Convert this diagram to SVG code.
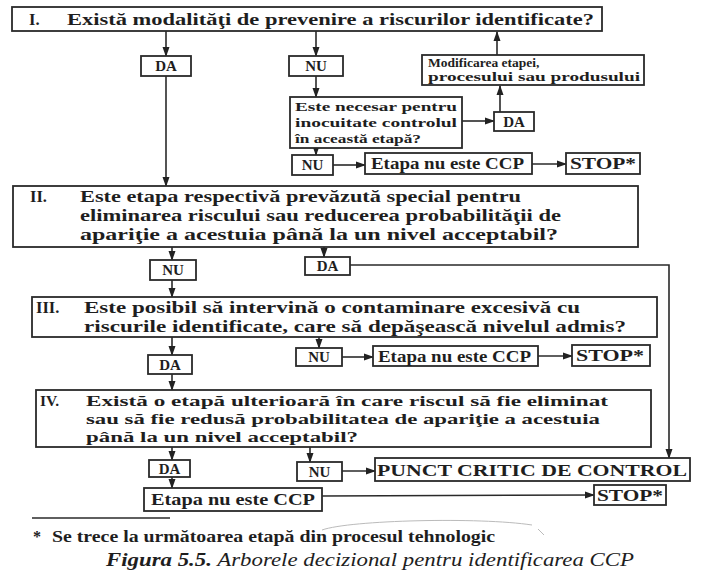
<svg xmlns="http://www.w3.org/2000/svg" width="703" height="573" viewBox="0 0 703 573">
<defs>
<marker id="ah" markerWidth="10" markerHeight="8" refX="9" refY="4" orient="auto" markerUnits="userSpaceOnUse">
<path d="M0,0.5 L10,4 L0,7.5 z" fill="#222"/>
</marker>
<style>
.box{fill:#fff;stroke:#2a2a2a;stroke-width:1.8}
.t{font-family:"Liberation Serif","Times New Roman",serif;font-weight:bold;fill:#1e1e1e}
.big{font-size:16.5px}
.mid{font-size:15.5px}
.sm{font-size:15px}
.xs{font-size:13.5px}
.c{text-anchor:middle}
.ln{fill:none;stroke:#2a2a2a;stroke-width:1.6}
.ar{fill:none;stroke:#2a2a2a;stroke-width:1.6;marker-end:url(#ah)}
</style>
</defs>
<rect width="703" height="573" fill="#fff"/>

<g id="connectors">
<line class="ar" x1="166" y1="31" x2="166" y2="56"/>
<line class="ar" x1="316" y1="31" x2="316" y2="56"/>
<line class="ar" x1="497" y1="55" x2="497" y2="32"/>
<line class="ar" x1="166" y1="76" x2="166" y2="186"/>
<line class="ar" x1="316" y1="76" x2="316" y2="97"/>
<line class="ar" x1="462" y1="121" x2="494" y2="121"/>
<line class="ar" x1="500" y1="112" x2="500" y2="86"/>
<line class="ar" x1="316" y1="148" x2="316" y2="155"/>
<line class="ar" x1="333" y1="165" x2="365" y2="165"/>
<line class="ar" x1="532" y1="164" x2="566" y2="164"/>
<line class="ar" x1="172" y1="247" x2="172" y2="260"/>
<line class="ar" x1="324" y1="247" x2="324" y2="257"/>
<polyline class="ar" points="350,265 669,265 669,458"/>
<line class="ar" x1="172" y1="280" x2="172" y2="297"/>
<line class="ar" x1="172" y1="337" x2="172" y2="355"/>
<line class="ar" x1="319" y1="337" x2="319" y2="348"/>
<line class="ar" x1="342" y1="357" x2="373" y2="357"/>
<line class="ar" x1="538" y1="356" x2="572" y2="356"/>
<line class="ar" x1="172" y1="374" x2="172" y2="390"/>
<line class="ar" x1="172" y1="447" x2="172" y2="460"/>
<line class="ar" x1="310" y1="447" x2="310" y2="462"/>
<line class="ar" x1="342" y1="471" x2="375" y2="471"/>
<line class="ar" x1="172" y1="477" x2="172" y2="488"/>
<line class="ar" x1="322" y1="496" x2="594" y2="495"/>
</g>

<g id="q1">
<rect class="box" x="12" y="7" width="590" height="24"/>
<text class="t big" x="29" y="25">I.</text>
<text class="t big" x="67" y="25" textLength="527" lengthAdjust="spacingAndGlyphs">Există modalităţi de prevenire a riscurilor identificate?</text>
</g>
<g id="q1-da">
<rect class="box" x="141" y="56" width="50" height="20"/>
<text class="t sm c" x="166" y="71">DA</text>
</g>
<g id="q1-nu">
<rect class="box" x="289" y="56" width="54" height="20"/>
<text class="t sm c" x="316" y="71">NU</text>
</g>
<g id="modificare">
<rect class="box" x="422" y="55" width="222" height="30"/>
<text class="t xs" x="428" y="67">Modificarea etapei,</text>
<text class="t xs" x="428" y="81" textLength="212" lengthAdjust="spacingAndGlyphs">procesului sau produsului</text>
</g>
<g id="necesar">
<rect class="box" x="290" y="97" width="172" height="51"/>
<text class="t xs" x="295" y="111" textLength="162" lengthAdjust="spacingAndGlyphs">Este necesar pentru</text>
<text class="t xs" x="295" y="127" textLength="162" lengthAdjust="spacingAndGlyphs">inocuitate controlul</text>
<text class="t xs" x="295" y="143" textLength="126" lengthAdjust="spacingAndGlyphs">în această etapă?</text>
</g>
<g id="necesar-da">
<rect class="box" x="494" y="112" width="40" height="19"/>
<text class="t sm c" x="514" y="127">DA</text>
</g>
<g id="necesar-nu">
<rect class="box" x="292" y="155" width="41" height="20"/>
<text class="t sm c" x="312.5" y="170">NU</text>
</g>
<g id="etapa1">
<rect class="box" x="365" y="153" width="167" height="21"/>
<text class="t" font-size="16" x="371" y="169" textLength="153" lengthAdjust="spacingAndGlyphs">Etapa nu este CCP</text>
</g>
<g id="stop1">
<rect class="box" x="566" y="153" width="74" height="21"/>
<text class="t" font-size="16" x="570" y="169" textLength="66" lengthAdjust="spacingAndGlyphs">STOP*</text>
</g>

<g id="q2">
<rect class="box" x="13" y="186" width="625" height="61"/>
<text class="t big" x="30" y="202">II.</text>
<text class="t big" x="80" y="202" textLength="441" lengthAdjust="spacingAndGlyphs">Este etapa respectivă prevăzută special pentru</text>
<text class="t big" x="80" y="221" textLength="481" lengthAdjust="spacingAndGlyphs">eliminarea riscului sau reducerea probabilităţii de</text>
<text class="t big" x="80" y="240" textLength="478" lengthAdjust="spacingAndGlyphs">apariţie a acestuia până la un nivel acceptabil?</text>
</g>
<g id="q2-nu">
<rect class="box" x="150" y="260" width="46" height="20"/>
<text class="t sm c" x="173" y="275">NU</text>
</g>
<g id="q2-da">
<rect class="box" x="305" y="257" width="45" height="18"/>
<text class="t sm c" x="327.5" y="271">DA</text>
</g>

<g id="q3">
<rect class="box" x="32" y="297" width="625" height="40"/>
<text class="t big" x="36" y="313">III.</text>
<text class="t big" x="84" y="313" textLength="496" lengthAdjust="spacingAndGlyphs">Este posibil să intervină o contaminare excesivă cu</text>
<text class="t big" x="84" y="332" textLength="542" lengthAdjust="spacingAndGlyphs">riscurile identificate, care să depăşească nivelul admis?</text>
</g>
<g id="q3-da">
<rect class="box" x="148" y="355" width="44" height="19"/>
<text class="t sm c" x="170" y="370">DA</text>
</g>
<g id="q3-nu">
<rect class="box" x="296" y="348" width="46" height="18"/>
<text class="t sm c" x="319" y="362">NU</text>
</g>
<g id="etapa3">
<rect class="box" x="373" y="346" width="165" height="20"/>
<text class="t" font-size="16" x="378" y="362" textLength="153" lengthAdjust="spacingAndGlyphs">Etapa nu este CCP</text>
</g>
<g id="stop3">
<rect class="box" x="572" y="345" width="78" height="21"/>
<text class="t" font-size="16" x="576" y="361" textLength="68" lengthAdjust="spacingAndGlyphs">STOP*</text>
</g>

<g id="q4">
<rect class="box" x="36" y="390" width="615" height="57"/>
<text class="t mid" x="40" y="406">IV.</text>
<text class="t mid" x="86" y="406" textLength="522" lengthAdjust="spacingAndGlyphs">Există o etapă ulterioară în care riscul să fie eliminat</text>
<text class="t mid" x="86" y="424" textLength="514" lengthAdjust="spacingAndGlyphs">sau să  fie redusă probabilitatea de apariţie a acestuia</text>
<text class="t mid" x="86" y="442" textLength="272" lengthAdjust="spacingAndGlyphs">până la un nivel acceptabil?</text>
</g>
<g id="q4-da">
<rect class="box" x="149" y="460" width="41" height="17"/>
<text class="t sm c" x="169.5" y="474">DA</text>
</g>
<g id="q4-nu">
<rect class="box" x="297" y="462" width="45" height="19"/>
<text class="t sm c" x="319.5" y="477">NU</text>
</g>
<g id="ccp">
<rect class="box" x="375" y="458" width="315" height="23"/>
<text class="t" font-size="17" x="377" y="476" textLength="310" lengthAdjust="spacingAndGlyphs">PUNCT CRITIC DE CONTROL</text>
</g>
<g id="etapa4">
<rect class="box" x="144" y="488" width="178" height="23"/>
<text class="t" font-size="17" x="151" y="505" textLength="164" lengthAdjust="spacingAndGlyphs">Etapa nu este CCP</text>
</g>
<g id="stop4">
<rect class="box" x="594" y="485" width="72" height="20"/>
<text class="t" font-size="16" x="597" y="501" textLength="66" lengthAdjust="spacingAndGlyphs">STOP*</text>
</g>

<line class="ln" x1="32" y1="518" x2="170" y2="518"/>
<text class="t" font-size="16" x="33" y="542">*</text>
<text class="t" font-size="16" x="52" y="542" textLength="443" lengthAdjust="spacingAndGlyphs">Se trece la următoarea etapă din procesul tehnologic</text>
<path d="M322,530 C350,520 480,517 532,525 M538,529 L544,535" fill="none" stroke="#bbb" stroke-width="1"/>
<text font-family="'Liberation Serif','Times New Roman',serif" font-style="italic" font-size="19" x="106" y="566" fill="#1e1e1e" textLength="528" lengthAdjust="spacingAndGlyphs"><tspan font-weight="bold">Figura 5.5.</tspan> Arborele decizional pentru identificarea CCP</text>
</svg>
